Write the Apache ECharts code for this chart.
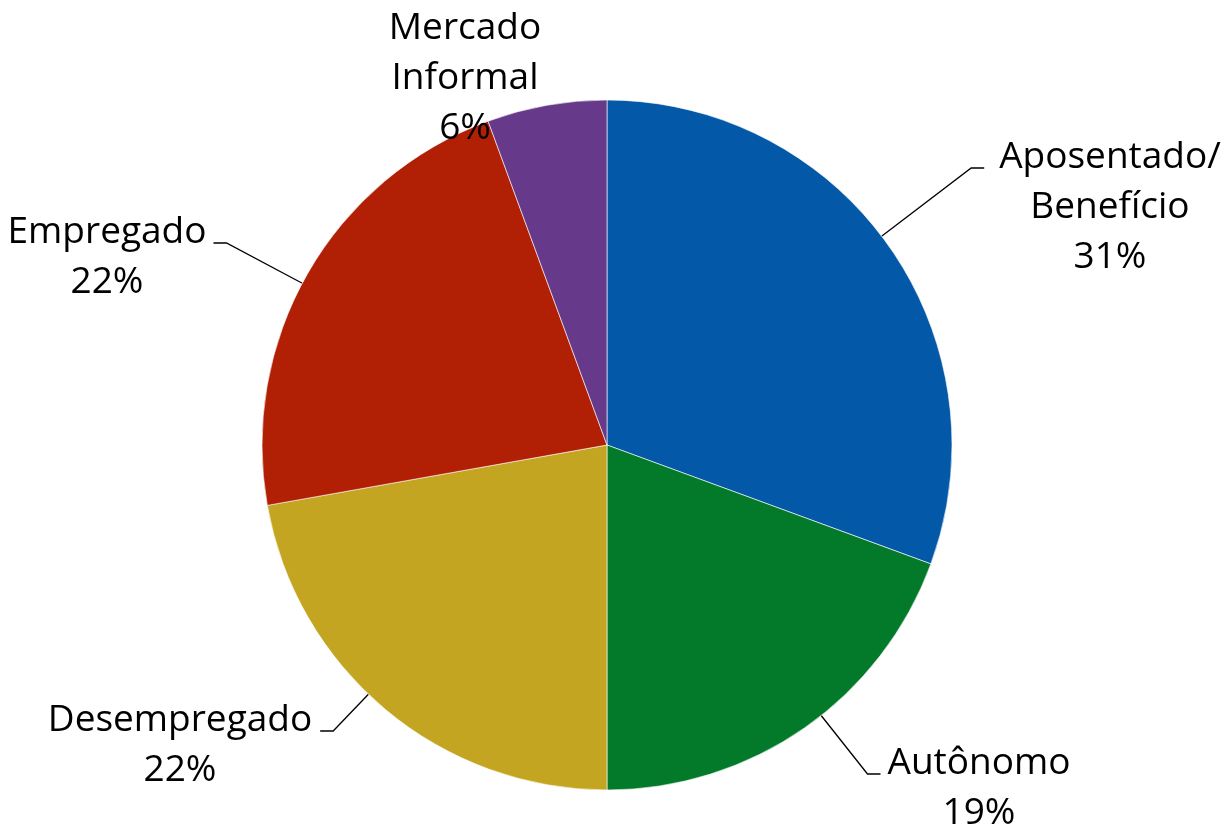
<!DOCTYPE html>
<html><head><meta charset="utf-8">
<script src="https://cdn.jsdelivr.net/npm/echarts@6/dist/echarts.min.js"></script>
<style>html,body{margin:0;padding:0;background:#fff}#c{width:1228px;height:829px}</style>
</head><body><div id="c"></div>
<script>
var categories = ['Aposentado/\nBenefício', 'Autônomo', 'Desempregado', 'Empregado', 'Mercado\nInformal'];
var values = [30.6, 19.4, 22.2, 22.2, 5.6];
var colors = ['#0458A8', '#027A2A', '#C3A521', '#B11F04', '#67398A'];
// label placement: centre x, top y, side of leader line, gap to text (layout only)
var labelBoxes = [
  {cx: 1110, top: 132, side: 'right', gap: 15, line: true},
  {cx: 979, top: 738, side: 'right', gap: 7, line: true},
  {cx: 180, top: 695, side: 'left', gap: 8, line: true},
  {cx: 107, top: 207, side: 'left', gap: 7, line: true},
  {cx: 465, top: 3, side: 'left', gap: 0, line: false}
];
var CX = 607, CY = 445, R = 345;

var chart = echarts.init(document.getElementById('c'));
chart.setOption({
  animation: false,
  series: [{
    type: 'pie',
    center: [CX, CY],
    radius: R,
    startAngle: 90,
    clockwise: true,
    percentPrecision: 0,
    itemStyle: {borderColor: '#ffffff', borderWidth: 0.6},
    label: {
      show: true,
      position: 'outside',
      fontFamily: 'Open Sans',
      fontSize: 37,
      lineHeight: 50,
      color: '#000',
      formatter: function (p) { return p.name + '\n' + p.percent + '%'; }
    },
    labelLine: {show: true, length: 20, length2: 12, smooth: false,
      lineStyle: {color: '#000', width: 1.3}},
    labelLayout: function (params) {
      var b = labelBoxes[params.dataIndex];
      var w = params.labelRect.width;
      var y0 = b.top + 36;
      var res = {x: b.cx, y: b.top, align: 'center', verticalAlign: 'top', hideOverlap: false, moveOverlap: false};
      if (b.line) {
        var endX = b.side === 'right' ? b.cx - w / 2 - b.gap : b.cx + w / 2 + b.gap;
        var elbX = b.side === 'right' ? endX - 13 : endX + 13;
        var dx = elbX - CX, dy = y0 - CY, d = Math.sqrt(dx * dx + dy * dy);
        var ax = CX + R * dx / d, ay = CY + R * dy / d;
        res.labelLinePoints = [[ax, ay], [elbX, y0], [endX, y0]];
      }
      return res;
    },
    data: categories.map(function (c, i) {
      var item = {name: c, value: values[i], itemStyle: {color: colors[i]}};
      if (!labelBoxes[i].line) item.labelLine = {show: false};
      return item;
    })
  }]
});
</script>
</body></html>
